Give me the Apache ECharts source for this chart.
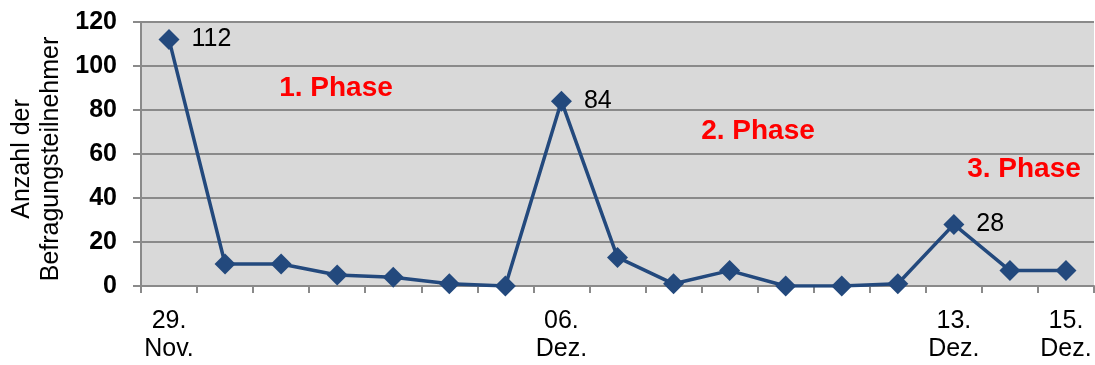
<!DOCTYPE html>
<html>
<head>
<meta charset="utf-8">
<script src="https://cdn.jsdelivr.net/npm/echarts@6/dist/echarts.min.js"></script>
<style>
  html, body { margin: 0; padding: 0; background: #ffffff; }
  #chart { width: 1095px; height: 365px; }
</style>
</head>
<body>
<div id="chart"></div>
<script>
// Survey days (29 Nov – 15 Dec)
const days = [
  '29.\nNov.', '30.\nNov.', '01.\nDez.', '02.\nDez.', '03.\nDez.', '04.\nDez.',
  '05.\nDez.', '06.\nDez.', '07.\nDez.', '08.\nDez.', '09.\nDez.', '10.\nDez.',
  '11.\nDez.', '12.\nDez.', '13.\nDez.', '14.\nDez.', '15.\nDez.'
];
// Number of respondents per day
const respondents = [112, 10, 10, 5, 4, 1, 0, 84, 13, 1, 7, 0, 0, 1, 28, 7, 7];
// Days whose date is printed under the axis
const labelledDays = [0, 7, 14, 16];
// Days whose value is printed beside the marker
const valueLabelDays = [0, 7, 14];
// Phase captions
const phaseNames = ['1. Phase', '2. Phase', '3. Phase'];
const yAxisTitle = 'Anzahl der\nBefragungsteilnehmer';

const FONT = '"Liberation Sans", Arial, sans-serif';
const GRID_GRAY = '#8a8a8a';
const LINE_BLUE = '#23497d';

const chart = echarts.init(document.getElementById('chart'), null, { renderer: 'canvas' });

const seriesData = respondents.map((v, i) => ({
  value: v,
  label: { show: valueLabelDays.includes(i) }
}));

chart.setOption({
  animation: false,
  textStyle: { fontFamily: FONT },
  grid: {
    left: 141, right: 1, top: 22, bottom: 79,
    show: true, backgroundColor: '#d9d9d9', borderWidth: 0
  },
  xAxis: {
    type: 'category',
    data: days,
    boundaryGap: true,
    axisLine: { show: true, lineStyle: { color: GRID_GRAY, width: 2 } },
    axisTick: { show: true, interval: 0, length: 7, lineStyle: { color: GRID_GRAY, width: 2 } },
    axisLabel: {
      interval: (i) => labelledDays.includes(i),
      color: '#000', fontSize: 25, fontFamily: FONT, lineHeight: 28, margin: 21
    },
    splitLine: { show: false }
  },
  yAxis: {
    type: 'value',
    min: 0, max: 120, interval: 20,
    axisLine: { show: true, lineStyle: { color: GRID_GRAY, width: 2 } },
    axisTick: { show: true, length: 8, lineStyle: { color: GRID_GRAY, width: 2 } },
    axisLabel: { color: '#000', fontSize: 25, fontWeight: 'bold', fontFamily: FONT, margin: 24 },
    splitLine: { show: true, lineStyle: { color: GRID_GRAY, width: 2 } }
  },
  series: [{
    type: 'line',
    data: seriesData,
    symbol: 'diamond',
    symbolSize: 21,
    lineStyle: { color: LINE_BLUE, width: 3.5 },
    itemStyle: { color: LINE_BLUE },
    label: {
      position: 'right', distance: 12,
      color: '#000', fontSize: 25, fontFamily: FONT
    },
    z: 3
  }],
  graphic: [
    {
      type: 'text', x: 37, y: 159, rotation: Math.PI / 2,
      style: {
        text: yAxisTitle, fill: '#000', font: '25px ' + FONT,
        align: 'center', verticalAlign: 'middle', lineHeight: 29
      }
    },
    {
      type: 'text', x: 336, y: 88,
      style: { text: phaseNames[0], fill: '#ff0000', font: 'bold 28px ' + FONT, align: 'center', verticalAlign: 'middle' }
    },
    {
      type: 'text', x: 758, y: 131,
      style: { text: phaseNames[1], fill: '#ff0000', font: 'bold 28px ' + FONT, align: 'center', verticalAlign: 'middle' }
    },
    {
      type: 'text', x: 1024, y: 169,
      style: { text: phaseNames[2], fill: '#ff0000', font: 'bold 28px ' + FONT, align: 'center', verticalAlign: 'middle' }
    }
  ]
});
</script>
</body>
</html>
